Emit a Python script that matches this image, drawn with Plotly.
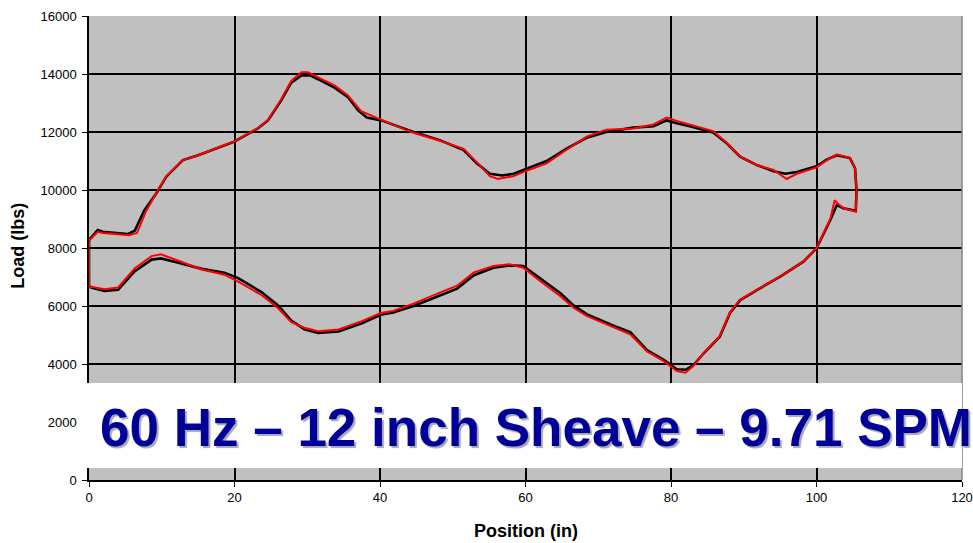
import plotly.graph_objects as go

# Dynamometer card: load vs. polished-rod position, one loop per stroke set
black_pos = [0.0, 0.0, 1.2, 1.9, 5.3, 6.3, 7.6, 9.25, 10.6, 12.9, 15.0, 18.6, 19.9, 23.2, 24.6,
             26.4, 27.8, 29.2, 30.3, 31.5, 33.8, 35.6, 37.0, 38.2, 40.2, 44.5, 48.2, 51.5,
             53.3, 55.1, 56.8, 58.4, 59.9, 62.9, 65.6, 68.4, 71.1, 74.8, 77.6, 79.4, 80.8,
             82.6, 85.8, 87.7, 89.5, 91.8, 94.1, 95.7, 97.3, 100.0, 101.4, 102.8, 104.6,
             105.3, 105.5, 105.4, 103.7, 102.8, 101.9, 100.0, 98.2, 95.0, 91.8, 89.5, 88.1,
             86.7, 84.5, 83.1, 82.0, 80.8, 79.0, 76.7, 74.4, 72.1, 68.4, 66.6, 64.8, 62.0,
             59.7, 57.8, 55.6, 52.9, 50.6, 47.8, 44.6, 41.8, 40.1, 37.5, 34.3, 31.5, 29.6,
             27.8, 26.0, 23.7, 20.5, 18.6, 15.5, 12.3, 9.9, 8.6, 6.3, 4.0, 2.1, 0.3, 0.0]
black_load = [6700, 8280, 8620, 8560, 8480, 8600, 9300, 9880, 10450, 11030, 11200, 11550, 11660,
              12120, 12400, 13080, 13700, 13950, 13960, 13820, 13520, 13200, 12750, 12500,
              12400, 12010, 11720, 11380, 10920, 10560, 10500, 10560, 10700, 11000, 11420,
              11800, 12000, 12150, 12200, 12400, 12300, 12200, 11980, 11600, 11150, 10860,
              10650, 10560, 10620, 10820, 11050, 11200, 11100, 10750, 10000, 9280, 9370,
              9480, 8965, 7990, 7530, 7010, 6550, 6200, 5750, 4940, 4370, 3965, 3800, 3820,
              4140, 4480, 5100, 5320, 5720, 6020, 6440, 6960, 7380, 7400, 7320, 7060, 6600,
              6320, 6000, 5780, 5700, 5400, 5120, 5070, 5200, 5500, 6020, 6480, 6960, 7150,
              7280, 7490, 7640, 7600, 7200, 6560, 6520, 6640, 6700]

red_pos = [0.0, 0.0, 1.2, 1.9, 5.5, 6.6, 7.8, 9.25, 10.6, 12.9, 15.0, 18.6, 19.9, 23.2, 24.6,
           26.4, 27.8, 29.2, 30.1, 31.5, 33.8, 35.6, 37.4, 40.2, 44.5, 48.2, 51.5, 53.3,
           55.1, 56.2, 58.4, 59.9, 62.9, 65.6, 68.4, 71.1, 74.8, 77.6, 79.4, 80.8, 82.6,
           85.8, 87.7, 89.5, 91.8, 94.1, 95.9, 97.3, 100.0, 101.4, 102.8, 104.6, 105.3,
           105.5, 105.4, 103.7, 102.8, 102.5, 101.9, 100.0, 98.2, 95.0, 91.8, 89.5, 88.1,
           86.7, 84.5, 83.1, 82.0, 80.8, 79.0, 76.7, 74.4, 72.1, 68.4, 66.6, 64.8, 62.0,
           59.7, 57.8, 55.6, 52.9, 50.6, 47.8, 44.6, 41.8, 40.1, 37.5, 34.3, 31.5, 29.6,
           27.8, 26.0, 23.7, 20.5, 18.6, 15.5, 12.3, 9.9, 8.6, 6.3, 4.0, 2.1, 0.3, 0.0]
red_load = [6650, 8250, 8560, 8520, 8440, 8520, 9250, 9880, 10470, 11030, 11200, 11550, 11670,
            12130, 12420, 13120, 13760, 14060, 14060, 13880, 13600, 13260, 12720, 12420,
            11980, 11700, 11420, 10960, 10480, 10380, 10480, 10640, 10920, 11380, 11840,
            12080, 12120, 12260, 12500, 12380, 12250, 12030, 11620, 11150, 10860, 10690,
            10380, 10560, 10780, 11020, 11220, 11110, 10750, 10000, 9250, 9380, 9560, 9650,
            9000, 8000, 7530, 7020, 6560, 6220, 5780, 4960, 4380, 3940, 3700, 3760, 4100,
            4430, 5020, 5260, 5660, 5940, 6340, 6860, 7320, 7440, 7380, 7160, 6700, 6420,
            6080, 5830, 5760, 5480, 5190, 5130, 5250, 5440, 5920, 6380, 6840, 7080, 7260,
            7560, 7780, 7720, 7300, 6640, 6580, 6660, 6650]

x_ticks = [0, 20, 40, 60, 80, 100, 120]
y_ticks = [0, 2000, 4000, 6000, 8000, 10000, 12000, 14000, 16000]
caption = "60 Hz \u2013 12 inch Sheave \u2013 9.71 SPM"
x_title = "Position (in)"
y_title = "Load (lbs)"

fig = go.Figure()
fig.add_trace(go.Scatter(x=black_pos, y=black_load, mode="lines",
                         line=dict(color="black", width=2.6), hoverinfo="skip"))
fig.add_trace(go.Scatter(x=red_pos, y=red_load, mode="lines",
                         line=dict(color="#FF0000", width=2), hoverinfo="skip"))

family = "Liberation Sans, Arial, sans-serif"
tick_font = dict(family=family, size=13, color="black")
common_axis = dict(showgrid=True, gridcolor="black", gridwidth=1.5, zeroline=False,
                   showline=True, linecolor="black", linewidth=1.5, ticks="outside",
                   ticklen=5, tickcolor="black", tickwidth=1.2, tickfont=tick_font,
                   automargin=False)

fig.update_layout(
    width=973, height=543,
    margin=dict(l=89, r=11, t=16, b=63),
    paper_bgcolor="white",
    plot_bgcolor="#C0C0C0",
    showlegend=False,
    font=dict(family=family, color="black"),
    xaxis=dict(range=[0, 120], tickvals=x_ticks, ticktext=[str(v) for v in x_ticks],
               **common_axis),
    yaxis=dict(range=[0, 16000], tickvals=y_ticks, ticktext=[str(v) for v in y_ticks],
               ticklabelstandoff=3, **common_axis),
)

# axis titles
fig.add_annotation(text="<b>%s</b>" % x_title, xref="paper", yref="paper", x=0.5, y=-0.11,
                   yanchor="middle", showarrow=False, font=dict(size=18))
fig.add_annotation(text="<b>%s</b>" % y_title, xref="paper", yref="paper", x=-0.0813, y=0.505,
                   xanchor="center", textangle=-90, showarrow=False, font=dict(size=18))

# right border of the plot area
fig.add_shape(type="line", xref="paper", yref="paper", x0=1, x1=1, y0=0, y1=1,
              line=dict(color="#808080", width=1.5))

# white caption band across the lower part of the plot
fig.add_shape(type="rect", xref="paper", yref="y", x0=-0.0126, x1=1.0, y0=414, y1=3345,
              fillcolor="white", line=dict(width=0), layer="above")

fig.add_annotation(text="<b>%s</b>" % caption, xref="paper", yref="y", x=0.512, y=1827,
                   showarrow=False,
                   font=dict(family=family, size=53, color="#000099",
                             shadow="2px 2px 1px #A8A8B4"))

fig.write_html("out.html")
